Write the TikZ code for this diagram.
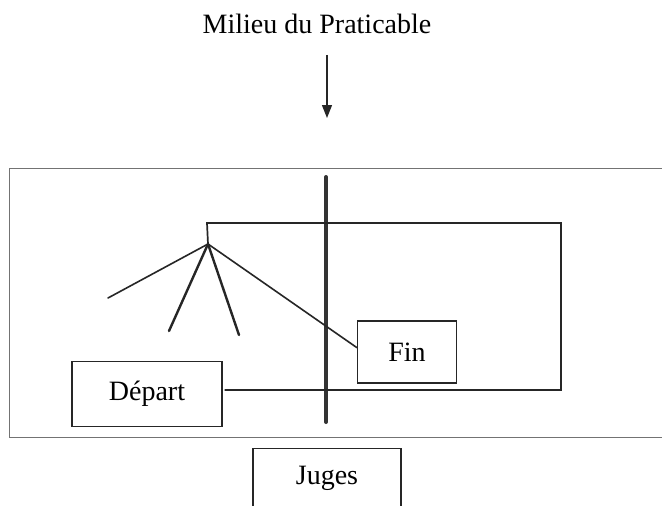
\documentclass[tikz,border=0pt]{standalone}
\usepackage{fontspec}
\setmainfont{Liberation Serif}
\usepackage{tikz}
\usetikzlibrary{arrows.meta, calc}
\colorlet{ink}  {black!85}
\colorlet{rule} {black!55}
\tikzset{
  namebox/.style={draw=ink, line width=1.3pt, fill=white, inner sep=0pt,
    font=\fontsize{28}{32}\selectfont},
  route/.style={draw=ink, line width=1.7pt},
  leg/.style={draw=ink, line width=#1, line cap=round},
  leg/.default=1.6pt,
}
\begin{document}
\begin{tikzpicture}[x=1pt, y=-1pt,
  midline/.style={draw=black!80, line width=4pt, line cap=round},
  pointer/.style={draw=ink, line width=1.3pt, -{Triangle[length=13pt, width=10pt]}}]
\fill[white] (0,0) rectangle (662,506);
\clip (0,0) rectangle (662,506);
% floor outline (runs off the right edge)
\draw[rule, line width=1pt] (680,168) -- (9,168) -- (9,437) -- (680,437);
% title and arrow to the middle line
\node[font=\fontsize{28}{32}\selectfont, anchor=base] (milieu) at (317,33) {Milieu du Praticable};
\coordinate (aim) at (327,118);
\draw[pointer] ([yshift=-18pt]milieu.south -| aim) -- (aim);
% middle line
\coordinate (mtop) at (326,177);
\coordinate (mbot) at (326,422);
\draw[midline] (mtop) -- (mbot);
% boxes
\node[namebox, minimum width=150pt, minimum height=65pt] (depart) at (147,394) {Départ};
\node[namebox, minimum width=99pt, minimum height=62pt] (fin) at (407,352) {Fin};
\node[namebox, anchor=north, minimum width=148pt, text height=28pt, text depth=40pt,
      inner ysep=8pt] (juges) at (327,448) {Juges};
% route
\coordinate (corner) at (207,223);
\coordinate (pivot) at (208,244);
\draw[route] ([xshift=2pt]depart.east |- 0,390) -- (561,390) -- (561,223) -- (corner) -- (pivot);
% fan of lines
\coordinate (legA) at (108,298);
\coordinate (legB) at (169,331);
\coordinate (legC) at (239,335);
\draw[leg] (pivot) -- (legA);
\draw[leg=2.4pt] (pivot) -- (legB);
\draw[leg=2.4pt] (pivot) -- (legC);
\draw[leg] (pivot) -- (fin.175);
\end{tikzpicture}
\end{document}
